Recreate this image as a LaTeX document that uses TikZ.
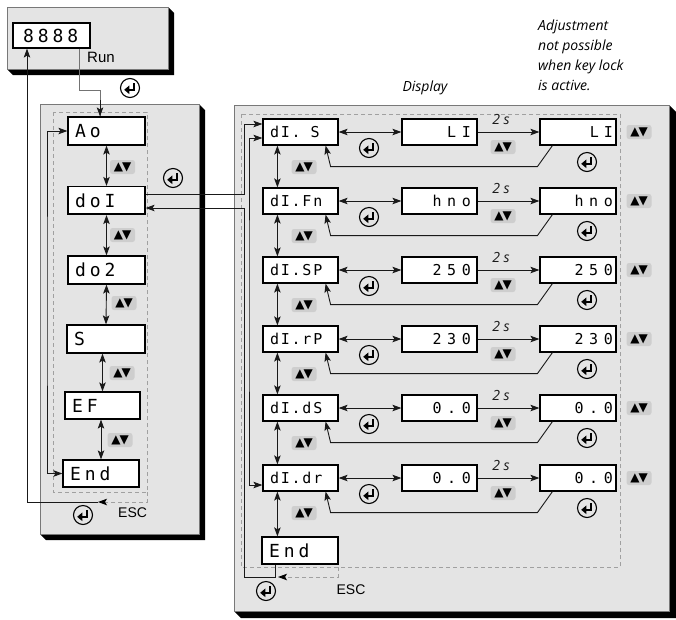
\documentclass[tikz,border=0pt]{standalone}
\usepackage{fontspec}
\setmainfont{Liberation Sans}
\newfontfamily\segfont[LetterSpace=22]{DejaVu Sans Mono}
\newfontfamily\segfontR[LetterSpace=12]{DejaVu Sans Mono}
\newfontfamily\segfontV[LetterSpace=38]{DejaVu Sans Mono}
\newfontfamily\itfont{Open Sans}
\newfontfamily\symfont{DejaVu Sans}
\usetikzlibrary{arrows.meta,calc}
\definecolor{panelgray}{RGB}{228,228,228}
\definecolor{panelline}{RGB}{120,120,120}
\definecolor{keygray}{RGB}{206,206,206}
\definecolor{dashgray}{RGB}{160,160,160}
\newcommand{\segL}{\segfont\fontsize{18}{18}\selectfont}
\newcommand{\segR}{\segfontR\fontsize{15}{15}\selectfont}
\newcommand{\segV}{\segfontV\fontsize{15}{15}\selectfont}
\newcommand{\itsz}{\itfont\itshape\fontsize{14}{20}\selectfont}
\tikzset{
  >={Stealth[length=9pt,width=6.5pt,inset=2pt]},
  conn/.style={line width=0.9pt, black!90},
  dashln/.style={dashgray, line width=0.9pt, dash pattern=on 4pt off 3pt},
  panel/.style={fill=panelgray, draw=panelline, line width=0.8pt},
  dbox/.style={draw=black, fill=white, line width=1.2pt, minimum height=#1, inner ysep=0pt,
    path picture={\draw[line width=2.6pt] (path picture bounding box.north east) -- (path picture bounding box.south east) -- (path picture bounding box.south west);}},
  dbox/.default=27pt,
  keys/.pic={\node[fill=keygray, rounded corners=2.5pt, minimum width=25pt, minimum height=14pt, inner sep=0pt, font=\symfont\fontsize{12}{12}\selectfont] (-k) {▲\kern-1pt▼};},
  entkey/.pic={\draw[line width=1.1pt] (0,0) circle (9.5pt);
    \draw[line width=1.9pt] (3.6,-4.8) -- (3.6,1.8) -- (-1,1.8);
    \fill (-5.8,1.8) -- (-0.6,-2.6) -- (-0.6,6.2) -- cycle;},
}
\begin{document}
\begin{tikzpicture}[x=1pt,y=-1pt]
\useasboundingbox (0,0) rectangle (676,619);
% ---------- top panel
\fill[black] (168,7) -- (174,13) -- (174,75) -- (13,75) -- (7,69) -- cycle;
\draw[panel] (7,7) rectangle (168,69);
\node[dbox=25pt, minimum width=77pt, text width=57pt, inner xsep=10pt, align=left, font=\segL] (d8) at (51.5,35.5) {8888};
\node[anchor=west, font=\fontsize{15}{15}\selectfont, inner sep=0pt] (run) at (87,57) {Run};
\pic at (130,88) {entkey};
% ---------- left panel
\fill[black] (199,104) -- (205,110) -- (205,540) -- (46,540) -- (40,534) -- cycle;
\draw[panel] (40,104) rectangle (199,534);
\draw[dashln] (53,112) rectangle (147,492);
\node[dbox=28pt, minimum width=77pt, text width=63pt, inner xsep=7pt, align=left, font=\segL] (ao) at (106.5,131) {Ao};
\node[dbox=28pt, minimum width=77pt, text width=63pt, inner xsep=7pt, align=left, font=\segL] (doi) at (106.5,200.5) {doI};
\node[dbox=28pt, minimum width=77pt, text width=63pt, inner xsep=7pt, align=left, font=\segL] (do2) at (106.5,270) {do2};
\node[dbox=28pt, minimum width=78pt, text width=64pt, inner xsep=7pt, align=left, font=\segL] (s) at (106,339) {S};
\node[dbox=27pt, minimum width=75pt, text width=61pt, inner xsep=7pt, align=left, font=\segL] (ef) at (102.5,405.5) {EF};
\node[dbox=27pt, minimum width=76pt, text width=62pt, inner xsep=7pt, align=left, font=\segL] (lend) at (101,473.5) {End};
\draw[conn,<->] (ao.south) -- (doi.north);
\draw[conn,<->] (doi.south) -- (do2.north);
\draw[conn,<->] (do2.south) -- (s.north);
\draw[conn,<->] (s.south -| ef.north) -- (ef.north);
\draw[conn,<->] (ef.south -| lend.north) -- (lend.north);
\pic (k1) at (122.5,167) {keys};
\pic (k2) at (122.5,235) {keys};
\pic (k3) at (124,303) {keys};
\pic (k4) at (122,373) {keys};
\pic (k5) at (120,440) {keys};
\pic at (173,178) {entkey};
\pic at (83,515) {entkey};
\node[anchor=west, font=\fontsize{14}{14}\selectfont, inner sep=0pt] (esc1) at (118,513) {ESC};
% run connector
\draw[line width=0.9pt, black!55] ($(d8.south west)+(67,0)$) |- (100,90) -- (ao.north -| 100,0);
\draw[conn,->] (100,100) -- (ao.north -| 100,0);
% inner loop
\draw[conn,<->] (ao.west) -| (47,300) |- (lend.west);
% ESC left
\draw[dashln, -{Stealth[black,length=9pt,width=6.5pt,inset=2pt]}] (147,492) -- (147,502) -- (98,502);
\draw[conn,->] (98,502) -| (d8.south -| 27,0);
% ---------- right panel
\fill[black] (669,105) -- (676,112) -- (676,618) -- (241,618) -- (234,611) -- cycle;
\draw[panel] (234,105) rectangle (669,611);
\draw[dashln] (241,114) rectangle (620,567);
\node[anchor=base, font=\itsz] (dsp) at (425,91) {Display};
\node[anchor=north west, align=left, inner sep=0pt, font=\itsz] (adj) at (538,20) {Adjustment\\not possible\\when key lock\\is active.};
\foreach \i/\c/\dt/\mt/\rt in {1/132/{dI.\hspace*{10pt}S}/LI/{L I\hspace*{12pt}},
                               2/201/{dI.Fn}/hno/hno,
                               3/270/{dI.SP}/250/250,
                               4/339/{dI.rP}/230/230,
                               5/408/{dI.dS}/0.0/{0.0\hspace*{5pt}},
                               6/478/{dI.dr}/0.0/{0.0\hspace*{5pt}}}{
  \node[dbox=26pt, minimum width=75pt, text width=61pt, inner xsep=7pt, align=left, font=\segR] (d\i) at (300.5,\c) {\dt};
  \node[dbox=26pt, minimum width=75pt, text width=63pt, inner xsep=6pt, align=right, font=\segV] (m\i) at (439.5,\c) {\mt};
  \node[dbox=26pt, minimum width=76pt, text width=70pt, inner xsep=3pt, align=right, font=\segV] (r\i) at (578,\c) {\rt};
  \draw[conn,<->] (d\i.east) -- (m\i.west);
  \draw[conn,->] (m\i.east) -- node[pos=0.38, yshift=13pt, font=\itsz, inner sep=0pt] (t\i) {2 s} (r\i.west);
  \draw[conn,->] ($(r\i.south west)+(13,0)$) -- ++(-15,21) -- ($(d\i.south east)+(-8,21)$) -- ($(d\i.south east)+(-13,0)$);
  \pic at (369,\c+16) {entkey};
  \pic at (587,\c+30) {entkey};
  \pic (mk\i) at (503,\c+15) {keys};
  \pic (rk\i) at (639,\c) {keys};
  \pic (vk\i) at (304,\c+35) {keys};
}
\node[dbox=27pt, minimum width=76pt, text width=62pt, inner xsep=7pt, align=left, font=\segL] (dend) at (300,550.5) {End};
\foreach \i [evaluate=\i as \j using int(\i+1)] in {1,...,5}{
  \draw[conn,<->] ($(d\i.south west)+(15,0)$) -- ($(d\j.north west)+(15,0)$);
}
\draw[conn,<->] ($(d6.south west)+(15,0)$) -- ($(dend.north west)+(16,0)$);
% links between panels
\draw[conn,->] ($(doi.east)+(0,-6.5)$) -- (244,194) |- ($(d1.west)+(0,-8)$);
\draw[conn,<->] ($(d1.west)+(0,6)$) -| (249,300) |- ($(d6.west)+(0,7)$);
\draw[conn,->] ($(dend.south west)+(14,0)$) -- ++(0,13) -| (244,208) -- (doi.east |- 0,208);
\draw[dashln, -{Stealth[black,length=9pt,width=6.5pt,inset=2pt]}] (338,567) -- (338,577) -- (278,577);
\pic at (266,591) {entkey};
\node[font=\fontsize{14}{14}\selectfont, inner sep=0pt] (esc2) at (351,590) {ESC};
\end{tikzpicture}
\end{document}
